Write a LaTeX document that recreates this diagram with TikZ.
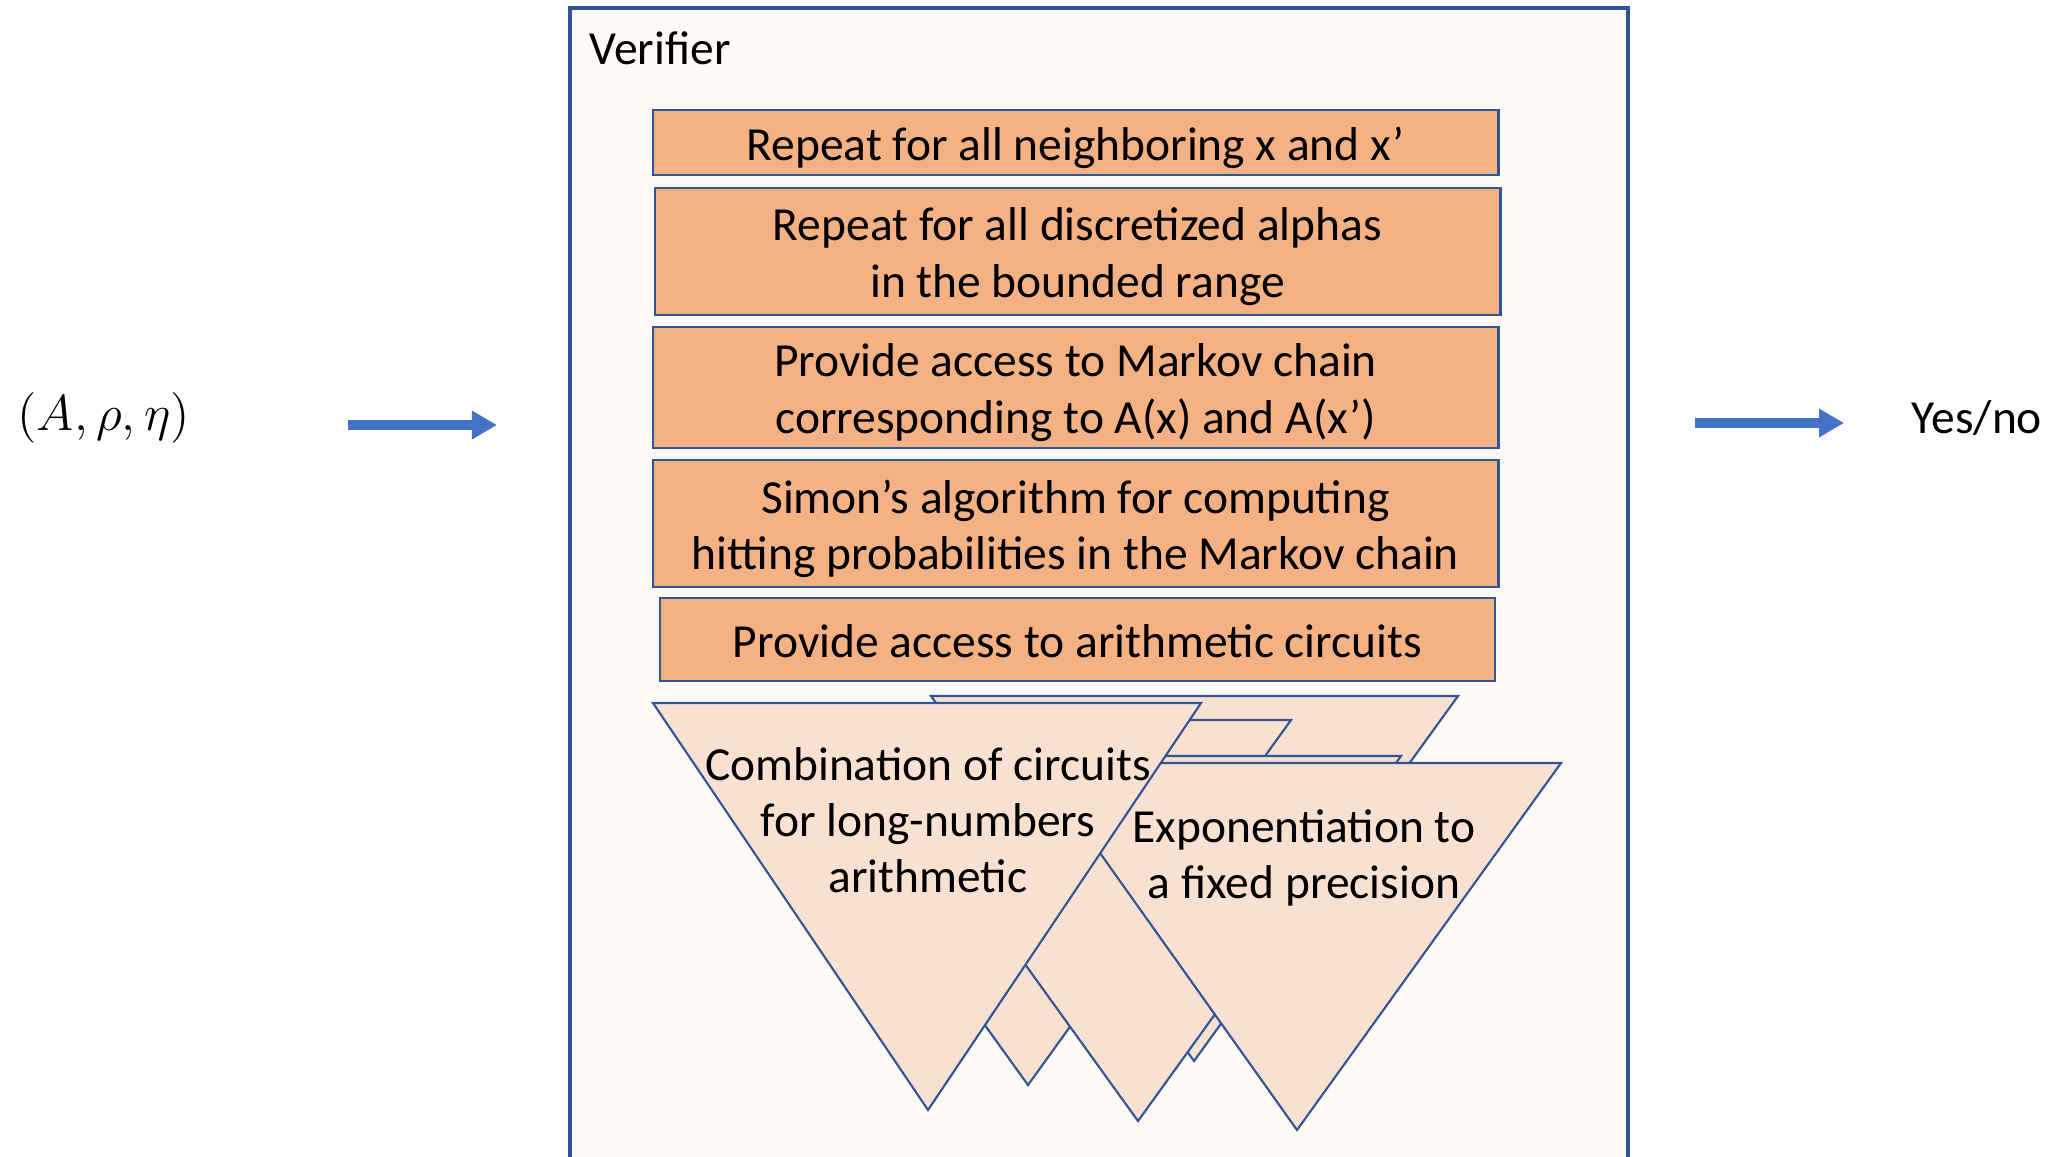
\documentclass[tikz,border=0pt]{standalone}
\usepackage{fontspec}
\setmainfont{Carlito}
\usetikzlibrary{arrows.meta}
\definecolor{frameblue}{HTML}{2F5597}
\definecolor{stepfill}{HTML}{F4B183}
\definecolor{trifill}{HTML}{F9E1D1}
\definecolor{panelfill}{HTML}{FFFAF6}
\definecolor{flowblue}{HTML}{4472C4}
\tikzset{
  txt/.style={font=\fontsize{13.5}{16}\selectfont, align=center, inner sep=0pt},
  steptxt/.style={txt, yshift=-0.05cm},
  stepbox/.style={draw=frameblue, fill=stepfill, line width=0.7pt, inner sep=0pt},
  tri/.style={draw=frameblue, fill=trifill, line width=0.6pt, line join=miter},
  flow/.style={draw=flowblue, line width=2.6pt, -{Triangle[length=0.25cm,width=0.27cm]}},
}
\begin{document}
\begin{tikzpicture}[x=0.01cm,y=-0.01cm]
\useasboundingbox (0,0) rectangle (2049,1156);
\clip (0,0) rectangle (2049,1156);
\fill[white] (0,0) rectangle (2049,1156);

% verifier panel (runs past the lower edge)
\draw[frameblue, fill=panelfill, line width=0.9pt] (570,8) rectangle (1628,1200);
\node[txt, anchor=west] (verifier) at (589,48) {Verifier};

% stacked steps
\node[stepbox, minimum width=8.45cm, minimum height=0.65cm] (s1) at (1075.5,142.5) {};
\node[steptxt] (s1t) at (s1) {Repeat for all neighboring x and x’};
\node[stepbox, minimum width=8.45cm, minimum height=1.27cm] (s2) at (1077.5,251.5) {};
\node[steptxt] (s2t) at (s2) {Repeat for all discretized alphas\\in the bounded range};
\node[stepbox, minimum width=8.45cm, minimum height=1.21cm] (s3) at (1075.5,387.5) {};
\node[steptxt] (s3t) at (s3) {Provide access to Markov chain\\corresponding to A(x) and A(x’)};
\node[stepbox, minimum width=8.45cm, minimum height=1.27cm] (s4) at (1075.5,523.5) {};
\node[steptxt] (s4t) at (s4) {Simon’s algorithm for computing\\hitting probabilities in the Markov chain};
\node[stepbox, minimum width=8.35cm, minimum height=0.83cm] (s5) at (1077.5,639.5) {};
\node[steptxt, yshift=0.03cm] (s5t) at (s5) {Provide access to arithmetic circuits};

% circuit triangles, back to front
\filldraw[tri] (931,696) -- (1458,696) -- (1194,1061) -- cycle;
\filldraw[tri] (765,720) -- (1291,720) -- (1028,1085) -- cycle;
\filldraw[tri] (875,756) -- (1401,756) -- (1138,1121) -- cycle;
\filldraw[tri] (1036,763) -- (1561,763) -- (1297,1130) -- cycle;
\filldraw[tri] (653,703) -- (1201,703) -- (928,1110) -- cycle;
\node[txt] (expo) at (1304,858) {Exponentiation to\\a fixed precision};
\node[txt] (combo) at (928,820) {Combination of circuits\\for long-numbers\\arithmetic};

% input and output
\node[txt, anchor=west, font=\fontsize{15}{18}\selectfont] (input) at (17,418) {$(A,\rho,\eta)$};
\node[txt, anchor=west] (output) at (1911,418) {Yes/no};
\coordinate (inA) at (348,425);
\coordinate (inB) at (497,425);
\coordinate (outA) at (1695,423);
\coordinate (outB) at (1844,423);
\draw[flow] (inA) -- (inB);
\draw[flow] (outA) -- (outB);
\end{tikzpicture}
\end{document}
